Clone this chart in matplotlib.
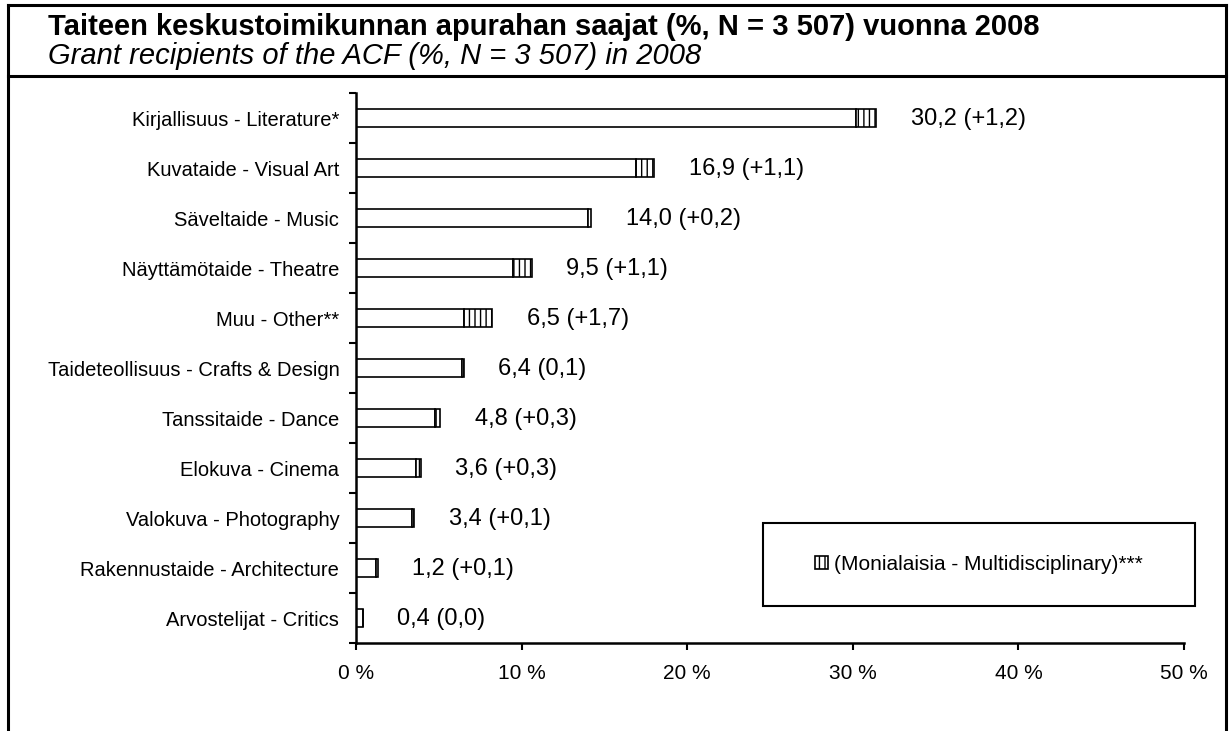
import matplotlib
matplotlib.use('Agg')
import matplotlib.pyplot as plt
from matplotlib.lines import Line2D
from matplotlib.patches import Rectangle, Patch

plt.rcParams['font.family'] = ['Liberation Sans', 'DejaVu Sans']
plt.rcParams['hatch.linewidth'] = 1.0

categories = ['Kirjallisuus - Literature*', 'Kuvataide - Visual Art', 'Säveltaide - Music',
              'Näyttämötaide - Theatre', 'Muu - Other**', 'Taideteollisuus - Crafts & Design',
              'Tanssitaide - Dance', 'Elokuva - Cinema', 'Valokuva - Photography',
              'Rakennustaide - Architecture', 'Arvostelijat - Critics']
share = [30.2, 16.9, 14.0, 9.5, 6.5, 6.4, 4.8, 3.6, 3.4, 1.2, 0.4]
multi = [1.2, 1.1, 0.2, 1.1, 1.7, 0.1, 0.3, 0.3, 0.1, 0.1, 0.0]
labels = ['30,2 (+1,2)', '16,9 (+1,1)', '14,0 (+0,2)', '9,5 (+1,1)', '6,5 (+1,7)',
          '6,4 (0,1)', '4,8 (+0,3)', '3,6 (+0,3)', '3,4 (+0,1)', '1,2 (+0,1)', '0,4 (0,0)']
xticks = [0, 10, 20, 30, 40, 50]

fig = plt.figure(figsize=(12.3, 7.31), dpi=100)
ax = fig.add_axes([356/1230, 1 - 643/731, 828/1230, 550/731])

y = list(range(len(categories)))
ax.barh(y, share, height=0.35, color='white', edgecolor='black', linewidth=1.2)
ax.barh(y, multi, left=share, height=0.35, color='white', edgecolor='black',
        linewidth=1.2, hatch='|||')

for i in y:
    ax.annotate(labels[i], (share[i] + multi[i], i), xytext=(25, -1),
                textcoords='offset points', va='center', ha='left', fontsize=17)

ax.set_xlim(0, 50)
ax.set_ylim(len(categories) - 0.5, -0.5)
ax.set_xticks(xticks)
ax.set_xticklabels([f'{t} %' for t in xticks], fontsize=15)
ax.set_yticks(y)
ax.set_yticklabels(categories, fontsize=14.5)
ax.tick_params(axis='y', which='major', length=0, pad=12)
ax.set_yticks([i - 0.5 for i in range(len(categories) + 1)], minor=True)
ax.tick_params(axis='y', which='minor', length=5, width=1.5, direction='out')
ax.tick_params(axis='x', length=5, width=1.5, direction='out', pad=10)
for s in ['top', 'right']:
    ax.spines[s].set_visible(False)
for s in ['left', 'bottom']:
    ax.spines[s].set_linewidth(1.8)

# legend box
ax.add_patch(Rectangle((0.4915, 0.067), 0.5218, 0.151, transform=ax.transAxes,
                       fill=False, edgecolor='black', linewidth=1.5, clip_on=False))
handle = Patch(facecolor='white', edgecolor='black', hatch='|||', linewidth=1.2)
ax.legend([handle], ['(Monialaisia - Multidisciplinary)***'], loc='center',
          bbox_to_anchor=(0.4915 + 0.5218 / 2, 0.067 + 0.151 / 2), frameon=False,
          fontsize=15, handlelength=0.6, handleheight=0.6, handletextpad=0.3)

# outer frame and title
for xs, ys in [((8/1230, 8/1230), (0, 1 - 5/731)),
               ((1226/1230, 1226/1230), (0, 1 - 5/731)),
               ((8/1230, 1226/1230), (1 - 5/731, 1 - 5/731)),
               ((8/1230, 1226/1230), (1 - 76/731, 1 - 76/731))]:
    fig.add_artist(Line2D(xs, ys, color='black', linewidth=2.2))

fig.text(48/1230, 1 - 27/731, 'Taiteen keskustoimikunnan apurahan saajat (%, N = 3 507) vuonna 2008',
         fontsize=21, fontweight='bold', va='center', ha='left')
fig.text(48/1230, 1 - 56/731, 'Grant recipients of the ACF (%, N = 3 507) in 2008',
         fontsize=21, fontstyle='italic', va='center', ha='left')

fig.savefig('out.png', dpi=100)
